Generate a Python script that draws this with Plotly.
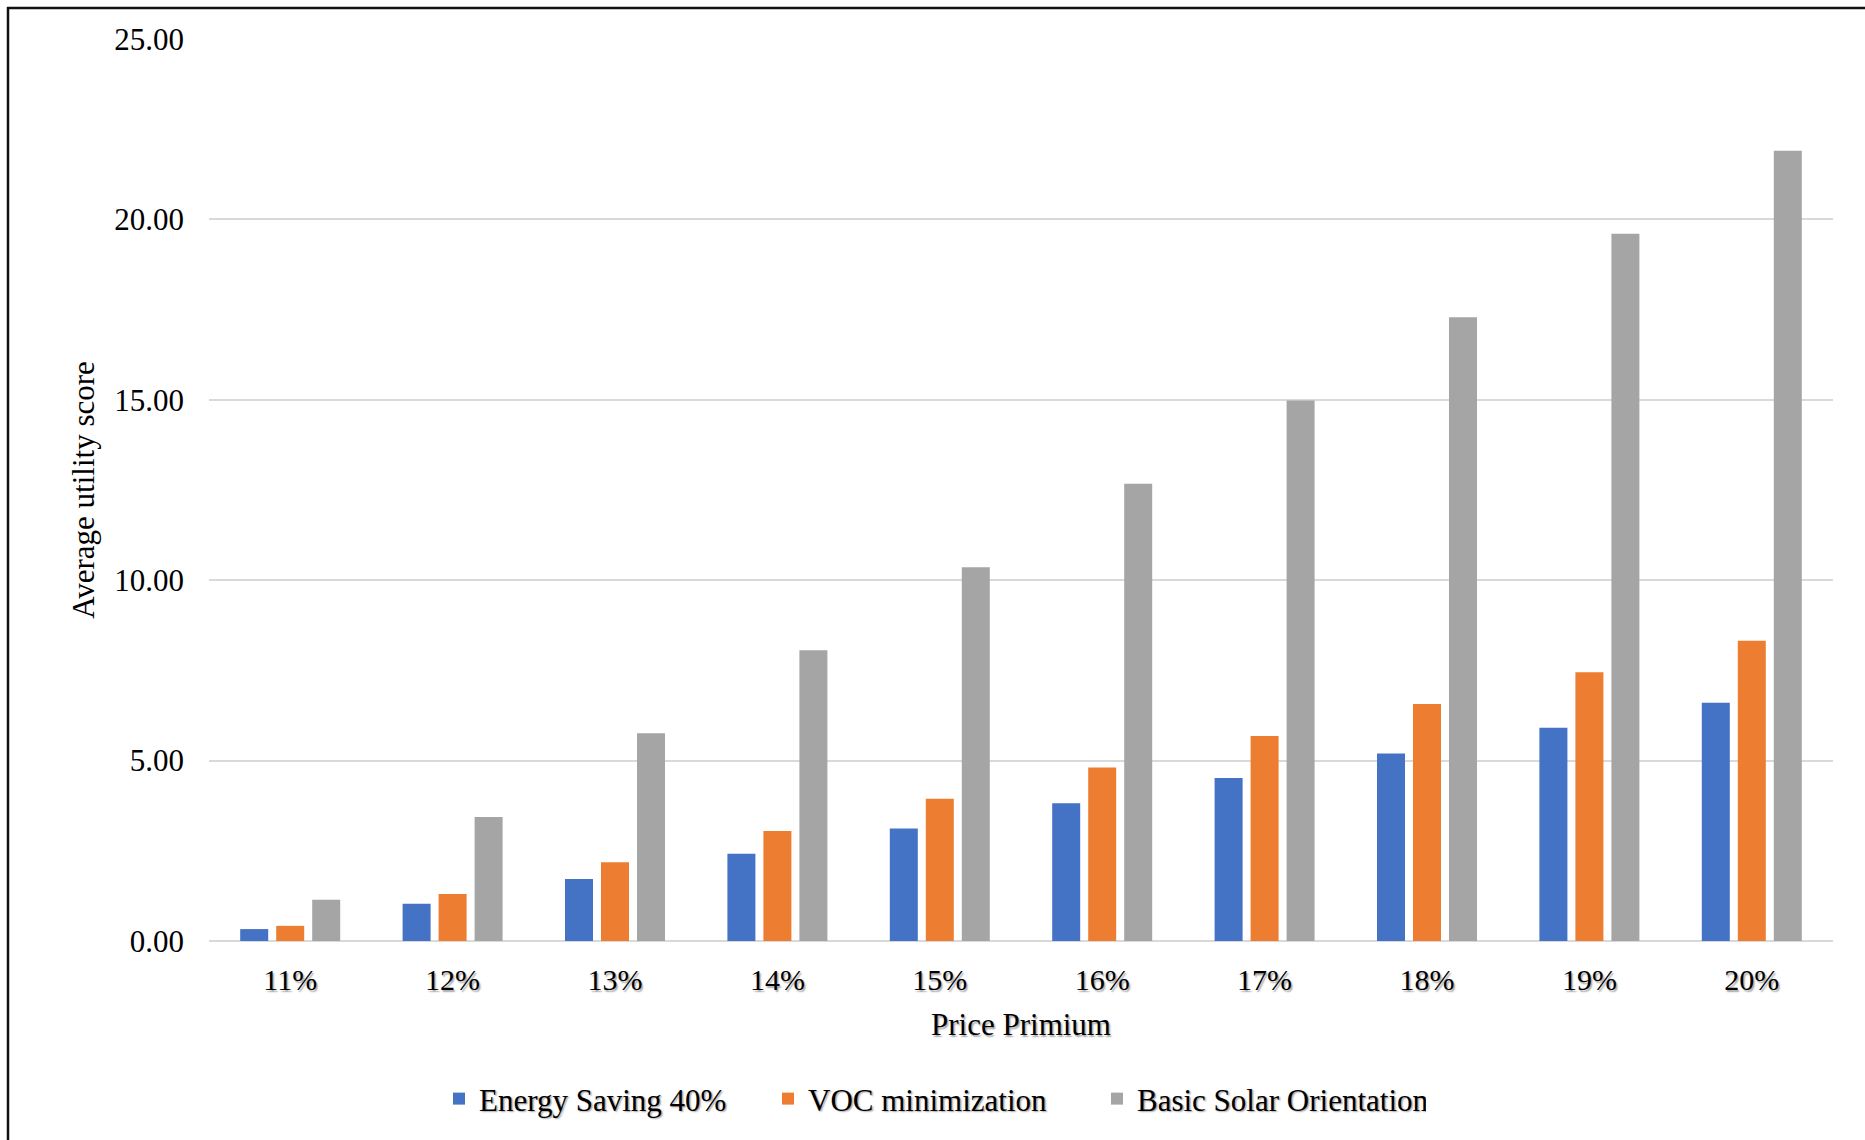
import plotly.graph_objects as go

# Price premium levels on the x axis
premiums = ["11%", "12%", "13%", "14%", "15%", "16%", "17%", "18%", "19%", "20%"]

# Average utility score per attribute
energy_saving = [0.33, 1.03, 1.72, 2.42, 3.12, 3.82, 4.52, 5.20, 5.91, 6.60]
voc_minimization = [0.42, 1.30, 2.18, 3.05, 3.94, 4.81, 5.68, 6.57, 7.45, 8.32]
basic_solar = [1.14, 3.44, 5.76, 8.06, 10.36, 12.67, 14.98, 17.29, 19.60, 21.90]

series_names = ["Energy Saving 40%", "VOC minimization", "Basic Solar Orientation"]
series_values = [energy_saving, voc_minimization, basic_solar]
series_colors = ["#4472C4", "#ED7D31", "#A5A5A5"]

FONT = "Liberation Serif, Times New Roman, serif"
SHADOW = "1.5px 1.5px 1.5px rgba(0,0,0,0.35)"

W, H = 1865, 1140
L, R, T, B = 209, 32, 39, 199

fig = go.Figure()
for name, vals, col in zip(series_names, series_values, series_colors):
    fig.add_trace(go.Bar(
        x=premiums, y=vals, name=name,
        marker=dict(color=col, line=dict(width=0)),
    ))

# frame lines along the left and top edges of the figure
pw, ph = W - L - R, H - T - B
def px_x(v):
    return (v - L) / pw
def px_y(v):
    return (H - B - v) / ph

frame = dict(color="#111111", width=2.5)
fig.add_shape(type="line", xref="paper", yref="paper",
              x0=px_x(8), x1=px_x(8), y0=px_y(7), y1=px_y(H + 5), line=frame)
fig.add_shape(type="line", xref="paper", yref="paper",
              x0=px_x(7), x1=px_x(W + 5), y0=px_y(8), y1=px_y(8), line=frame)

fig.update_layout(
    width=W, height=H,
    margin=dict(l=L, r=R, t=T, b=B),
    paper_bgcolor="white", plot_bgcolor="white",
    font=dict(family=FONT, size=31, color="black"),
    barmode="group", bargap=0.335, bargroupgap=0.222,
    legend=dict(
        orientation="h", xref="container", yref="container",
        x=0.5, xanchor="center", y=0.036, yanchor="middle",
        font=dict(family=FONT, size=31, color="black", shadow=SHADOW),
        itemwidth=30, tracegroupgap=0, entrywidth=284,
    ),
    showlegend=True,
)

fig.update_xaxes(
    showgrid=False, showline=False, zeroline=False,
    tickfont=dict(family=FONT, size=30, color="black", shadow=SHADOW),
    ticks="", ticklabelstandoff=18,
    title=dict(text="Price Primium", standoff=18,
               font=dict(family=FONT, size=31, color="black", shadow=SHADOW)),
)
fig.update_yaxes(
    range=[0, 25], dtick=5, tickformat=".2f",
    showgrid=True, gridcolor="#D9D9D9", gridwidth=1.5,
    zeroline=True, zerolinecolor="#D9D9D9", zerolinewidth=1.5,
    showline=False, ticks="", ticklabelstandoff=24,
    tickfont=dict(family=FONT, size=31, color="black"),
    title=dict(text="Average utility score", standoff=10,
               font=dict(family=FONT, size=31, color="black")),
)

fig.write_html("out.html")
